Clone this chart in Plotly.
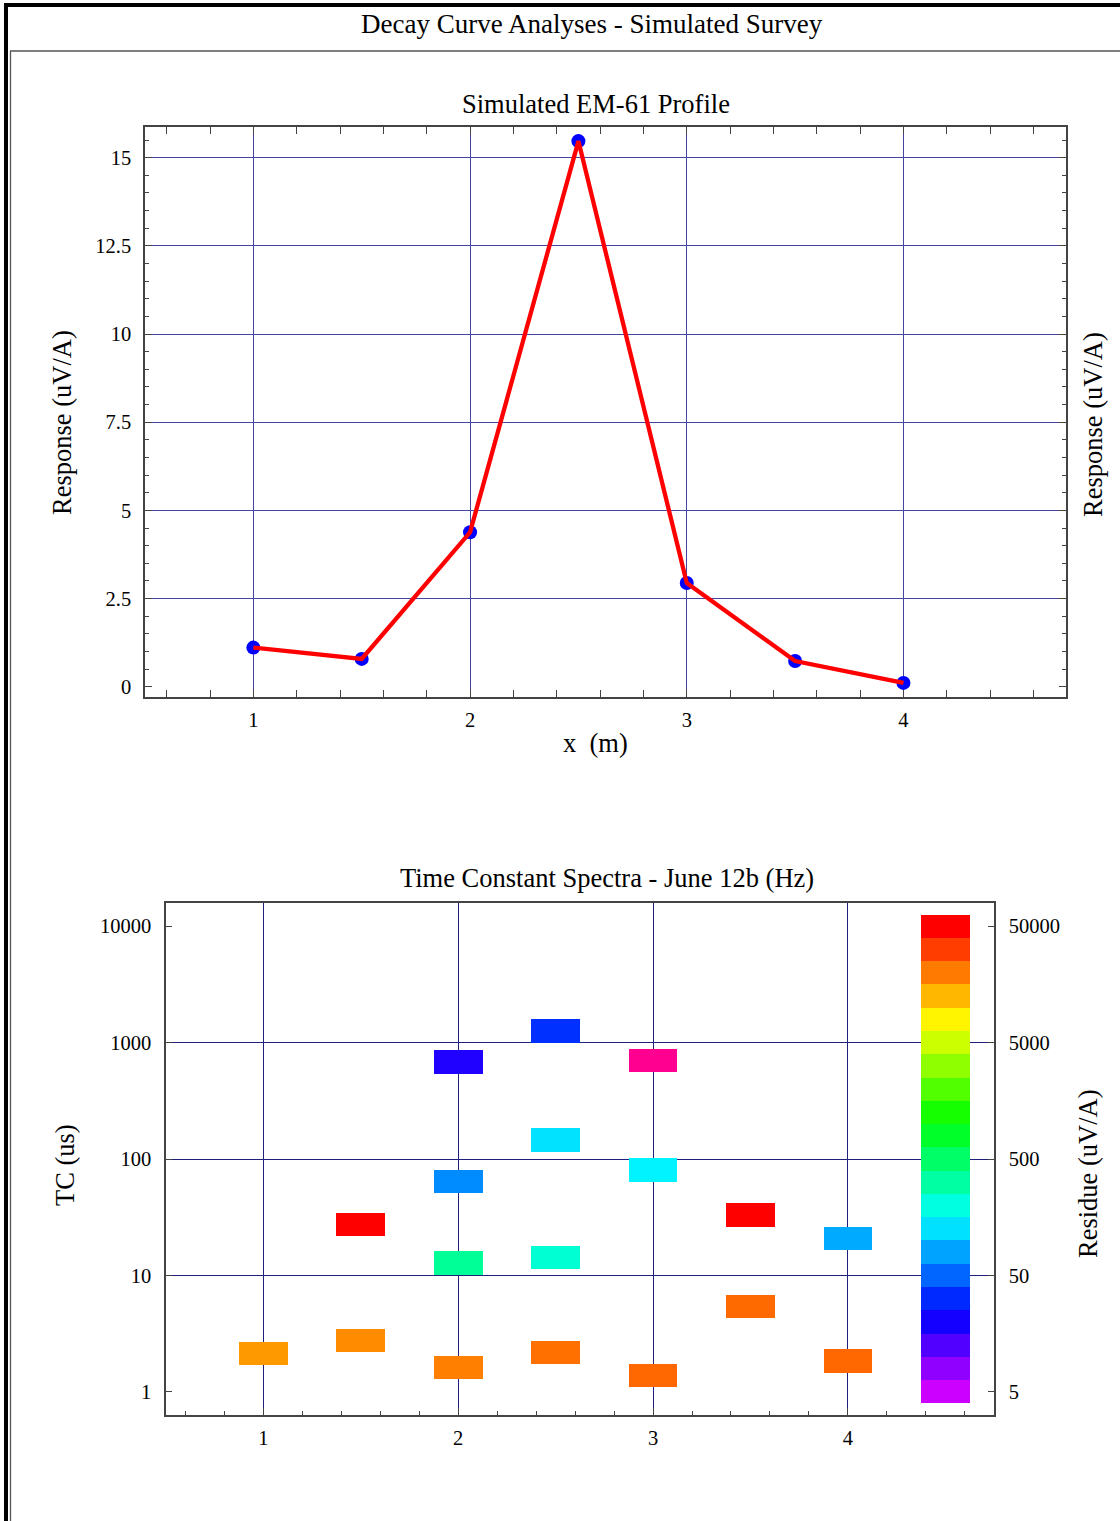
import math
import colorsys
import plotly.graph_objects as go

# ---------------- data ----------------
PROFILE_X = [1, 1.5, 2, 2.5, 3, 3.5, 4]
PROFILE_Y = [1.11, 0.79, 4.38, 15.47, 2.94, 0.73, 0.11]

SPEC_X = [1, 1.5, 1.5, 2, 2, 2, 2, 2.5, 2.5, 2.5, 2.5, 3, 3, 3, 3.5, 3.5, 4, 4]
SPEC_TC = [2.14, 2.74, 27.4, 1.62, 12.8, 64, 680, 2.16, 14.3, 146, 1259,
           1.37, 80.5, 707, 5.37, 33, 1.84, 20.6]
SPEC_RES = [15800, 17400, 50000, 19200, 348, 66.7, 18.3, 21500, 222, 127, 33.3,
            22900, 144, 1.48, 22500, 50000, 22900, 83.4]

# colour-scale levels (residue, uV/A)
CBAR_RES = [5, 7.92, 12.6, 19.9, 31.5, 50, 79.2, 126, 199, 315, 500, 792,
            1260, 1990, 3150, 5000, 7920, 12600, 19900, 31500, 50000]

X_TICKS = [1, 2, 3, 4]
RESP_TICKS = [0, 2.5, 5, 7.5, 10, 12.5, 15]
RESP_TICKTEXT = ["0", "2.5", "5", "7.5", "10", "12.5", "15"]
TC_TICKS = [1, 10, 100, 1000, 10000]
TC_TICKTEXT = ["1", "10", "100", "1000", "10000"]
RES_TICKS = [5, 50, 500, 5000, 50000]
RES_TICKTEXT = ["5", "50", "500", "5000", "50000"]

RES_MAX = 50000.0
RES_PER_TC = 5.0          # residue axis = 5 x TC axis
HALF_DECADE = 0.1         # half height of each cell in decades
CELL_W = 0.25
CBAR_X = 4.5

# ---------------- helpers ----------------
W, H = 1120, 1521
FONT = "Liberation Serif, Times New Roman, serif"
AXC = "#444444"
GRID_TOP = "#4444a0"
GRID_BOT = "#20207f"


def px(x):
    return x / W


def py(y):
    return 1 - y / H


def res_color(r):
    h = 0.2 * math.log10(RES_MAX / r)
    rr, gg, bb = colorsys.hsv_to_rgb(h % 1.0, 1.0, 1.0)
    return "rgb(%d,%d,%d)" % (round(rr * 255), round(gg * 255), round(bb * 255))


lo = 10 ** (-HALF_DECADE)
hi = 10 ** HALF_DECADE

fig = go.Figure()

# profile: points (main y axis), line on top (overlay axis with identical range)
fig.add_trace(go.Scatter(x=PROFILE_X, y=PROFILE_Y, mode="markers",
                         marker=dict(color="#0000ff", size=14),
                         xaxis="x", yaxis="y", showlegend=False, hoverinfo="x+y"))
fig.add_trace(go.Scatter(x=PROFILE_X, y=PROFILE_Y, mode="lines",
                         line=dict(color="#ff0000", width=4.3),
                         xaxis="x", yaxis="y2", showlegend=False, hoverinfo="skip"))

# spectra cells
fig.add_trace(go.Bar(x=SPEC_X,
                     base=[t * lo for t in SPEC_TC],
                     y=[t * (hi - lo) for t in SPEC_TC],
                     width=CELL_W,
                     marker=dict(color=[res_color(r) for r in SPEC_RES], line=dict(width=0)),
                     xaxis="x3", yaxis="y3", showlegend=False,
                     customdata=SPEC_RES, hovertemplate="x=%{x}<br>res=%{customdata}<extra></extra>"))

# colour scale column on the residue axis
fig.add_trace(go.Bar(x=[CBAR_X] * len(CBAR_RES),
                     base=[r * lo for r in CBAR_RES],
                     y=[r * (hi - lo) for r in CBAR_RES],
                     width=CELL_W,
                     marker=dict(color=[res_color(r) for r in CBAR_RES], line=dict(width=0)),
                     xaxis="x3", yaxis="y4", showlegend=False, hoverinfo="skip"))

tickfont = dict(family=FONT, size=20.5, color="black")

common_x = dict(tickvals=X_TICKS, ticks="inside", ticklen=7, tickwidth=1, tickcolor=AXC,
                showline=True, linecolor=AXC, linewidth=1.5, zeroline=False,
                showgrid=True, gridwidth=1, tickfont=tickfont, ticklabelstandoff=4,
                range=[0.5, 4.75], fixedrange=True)

lr = math.log10(RES_PER_TC)

fig.update_layout(
    width=W, height=H,
    margin=dict(l=0, r=0, t=0, b=0),
    paper_bgcolor="white", plot_bgcolor="white",
    barmode="overlay",
    bargap=0,
    font=dict(family=FONT, color="black"),
    xaxis=dict(common_x, domain=[px(145), px(1066)], anchor="y", gridcolor=GRID_TOP,
               mirror="allticks",
               minor=dict(dtick=0.2, tick0=0, ticks="inside", ticklen=4,
                          tickcolor=AXC, showgrid=False)),
    yaxis=dict(domain=[py(697), py(127)], anchor="x", range=[-0.29, 15.87],
               tickvals=RESP_TICKS, ticktext=RESP_TICKTEXT,
               ticks="inside", ticklen=7, tickcolor=AXC,
               showline=True, linecolor=AXC, linewidth=1.5, mirror="allticks",
               showgrid=False, zeroline=False, tickfont=tickfont, ticklabelstandoff=8,
               minor=dict(dtick=0.5, tick0=0, ticks="inside", ticklen=4,
                          tickcolor=AXC, showgrid=False), fixedrange=True),
    yaxis2=dict(overlaying="y", anchor="x", side="right", range=[-0.29, 15.87],
                tickvals=RESP_TICKS[1:], showticklabels=False, ticks="",
                showgrid=True, gridcolor=GRID_TOP, gridwidth=1,
                showline=False, zeroline=False, fixedrange=True),
    xaxis3=dict(common_x, domain=[px(166), px(994)], anchor="y3", gridcolor=GRID_BOT,
                mirror=True,
                minor=dict(dtick=0.2, tick0=0, ticks="inside", ticklen=4,
                           tickcolor=AXC, showgrid=False)),
    yaxis3=dict(domain=[py(1415), py(903)], anchor="x3", type="log", range=[-0.2, 4.2],
                tickvals=TC_TICKS, ticktext=TC_TICKTEXT,
                ticks="inside", ticklen=6, tickcolor=AXC,
                showline=True, linecolor=AXC, linewidth=1.5, mirror=True,
                showgrid=False, zeroline=False, tickfont=tickfont, ticklabelstandoff=9,
                minor=dict(tickmode="array", tickvals=TC_TICKS[1:4], ticks="",
                           showgrid=True, gridcolor=GRID_BOT, gridwidth=1),
                fixedrange=True),
    yaxis4=dict(overlaying="y3", anchor="x3", side="right", type="log",
                range=[-0.2 + lr, 4.2 + lr],
                tickvals=RES_TICKS, ticktext=RES_TICKTEXT,
                ticks="inside", ticklen=6, tickcolor=AXC,
                showline=True, linecolor=AXC, linewidth=1.5,
                showgrid=False, zeroline=False, tickfont=tickfont, ticklabelstandoff=9,
                fixedrange=True),
)

# frame
frame = dict(xref="paper", yref="paper", type="line")
fig.add_shape(frame, x0=px(6), x1=px(6), y0=py(3), y1=-0.05, line=dict(color="black", width=4))
fig.add_shape(frame, x0=px(4), x1=1.05, y0=py(5), y1=py(5), line=dict(color="black", width=4))
fig.add_shape(frame, x0=px(10.5), x1=px(10.5), y0=py(51), y1=-0.05, line=dict(color="#555555", width=1.3))
fig.add_shape(frame, x0=px(10), x1=1.05, y0=py(51), y1=py(51), line=dict(color="#555555", width=1.3))


def ann(text, x, y, size=26.5, angle=0):
    fig.add_annotation(text=text, x=px(x), y=py(y), xref="paper", yref="paper",
                       showarrow=False, textangle=angle, xanchor="center", yanchor="middle",
                       font=dict(family=FONT, size=size, color="black"))


ann("Decay Curve Analyses - Simulated Survey", 592, 24, size=27)
ann("Simulated EM-61 Profile", 596, 104)
ann("x  (m)", 595, 743)
ann("Response (uV/A)", 62, 423, angle=-90)
ann("Response (uV/A)", 1093, 425, angle=-90)
ann("Time Constant Spectra - June 12b (Hz)", 607, 878)
ann("TC (us)", 65, 1165, angle=-90)
ann("Residue (uV/A)", 1088, 1174, angle=-90)

fig.write_html("out.html")
